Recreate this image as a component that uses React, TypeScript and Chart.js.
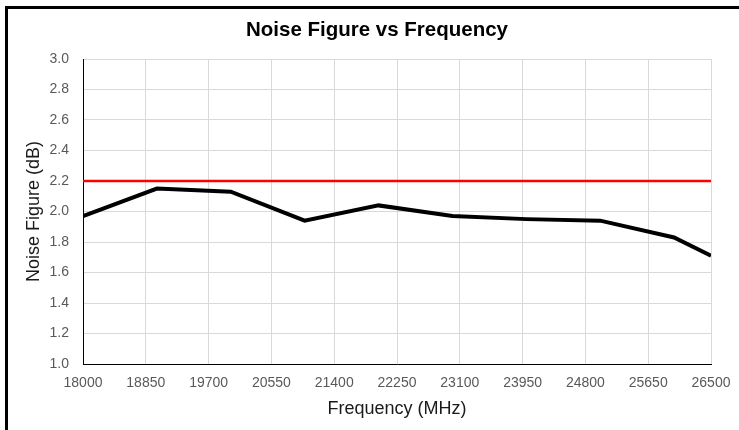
import React, { useEffect, useRef } from "react";
import { Chart, registerables } from "chart.js";

Chart.register(...registerables);

const chartTitle = "Noise Figure vs Frequency";
const frequencies = [18000, 19000, 20000, 21000, 22000, 23000, 24000, 25000, 26000, 26500];
const noiseFigure = [1.97, 2.15, 2.13, 1.94, 2.04, 1.97, 1.95, 1.94, 1.83, 1.71];
const limitFrequencies = [18000, 26500];
const limitValues = [2.2, 2.2];
const xTicks = [18000, 18850, 19700, 20550, 21400, 22250, 23100, 23950, 24800, 25650, 26500];
const yTicks = [1.0, 1.2, 1.4, 1.6, 1.8, 2.0, 2.2, 2.4, 2.6, 2.8, 3.0];

const FONT = "'Liberation Sans', Arial, sans-serif";

const titlePlugin = {
  id: "centeredTitle",
  afterDraw(chart: any) {
    const ctx = chart.ctx;
    ctx.save();
    ctx.font = `bold 20.5px ${FONT}`;
    ctx.fillStyle = "#000000";
    ctx.textAlign = "center";
    ctx.textBaseline = "middle";
    ctx.fillText(chartTitle, 377, 30);
    ctx.restore();
  },
};

export default function App() {
  const canvasRef = useRef<HTMLCanvasElement | null>(null);

  useEffect(() => {
    const canvas = canvasRef.current;
    if (!canvas) return;
    const chart = new Chart(canvas, {
      type: "line",
      data: {
        datasets: [
          {
            label: "Noise Figure",
            data: frequencies.map((f, i) => ({ x: f, y: noiseFigure[i] })),
            borderColor: "#000000",
            borderWidth: 4,
            pointRadius: 0,
            tension: 0,
            fill: false,
            order: 1,
          },
          {
            label: "Limit",
            data: limitFrequencies.map((f, i) => ({ x: f, y: limitValues[i] })),
            borderColor: "#ff0000",
            borderWidth: 2.5,
            pointRadius: 0,
            tension: 0,
            fill: false,
            order: 2,
          },
        ],
      },
      options: {
        responsive: false,
        animation: false,
        devicePixelRatio: 1,
        layout: { padding: { left: 9, top: 59, right: 28, bottom: 8 } },
        plugins: {
          legend: { display: false },
          tooltip: { enabled: false },
          title: { display: false },
        },
        scales: {
          x: {
            type: "linear",
            min: 18000,
            max: 26500,
            afterBuildTicks: (scale: any) => {
              scale.ticks = xTicks.map((v) => ({ value: v }));
            },
            afterFit: (scale: any) => {
              scale.height = 58;
              scale.paddingLeft = 0;
              scale.paddingRight = 0;
            },
            ticks: {
              color: "#595959",
              font: { family: FONT, size: 14 },
              padding: 11,
              maxRotation: 0,
              autoSkip: false,
              callback: (v: any) => String(v),
            },
            grid: { color: "#d9d9d9", lineWidth: 1, drawTicks: false },
            border: { color: "#000000", width: 1 },
            title: {
              display: true,
              text: "Frequency (MHz)",
              color: "#1a1a1a",
              font: { family: FONT, size: 18 },
              padding: { top: 0, bottom: 2 },
            },
          },
          y: {
            type: "linear",
            min: 1,
            max: 3,
            afterBuildTicks: (scale: any) => {
              scale.ticks = yTicks.map((v) => ({ value: v }));
            },
            afterFit: (scale: any) => {
              scale.width = 74;
              scale.paddingTop = 0;
              scale.paddingBottom = 0;
            },
            ticks: {
              color: "#595959",
              font: { family: FONT, size: 14 },
              padding: 14,
              autoSkip: false,
              callback: (v: any) => Number(v).toFixed(1),
            },
            grid: { color: "#d9d9d9", lineWidth: 1, drawTicks: false },
            border: { color: "#000000", width: 1 },
            title: {
              display: true,
              text: "Noise Figure (dB)",
              color: "#1a1a1a",
              font: { family: FONT, size: 18 },
              padding: { top: 14, bottom: 0 },
            },
          },
        },
      },
      plugins: [titlePlugin],
    });
    return () => chart.destroy();
  }, []);

  return (
    <div style={{ position: "fixed", left: 0, top: 0, width: 739, height: 430, background: "#ffffff", overflow: "hidden" }}>
      <canvas ref={canvasRef} width={739} height={430} style={{ position: "absolute", left: 0, top: 0 }} />
      <div
        style={{
          position: "absolute",
          left: 5,
          top: 6,
          width: 740,
          height: 430,
          borderTop: "3px solid #000",
          borderLeft: "3px solid #000",
          pointerEvents: "none",
        }}
      />
    </div>
  );
}
